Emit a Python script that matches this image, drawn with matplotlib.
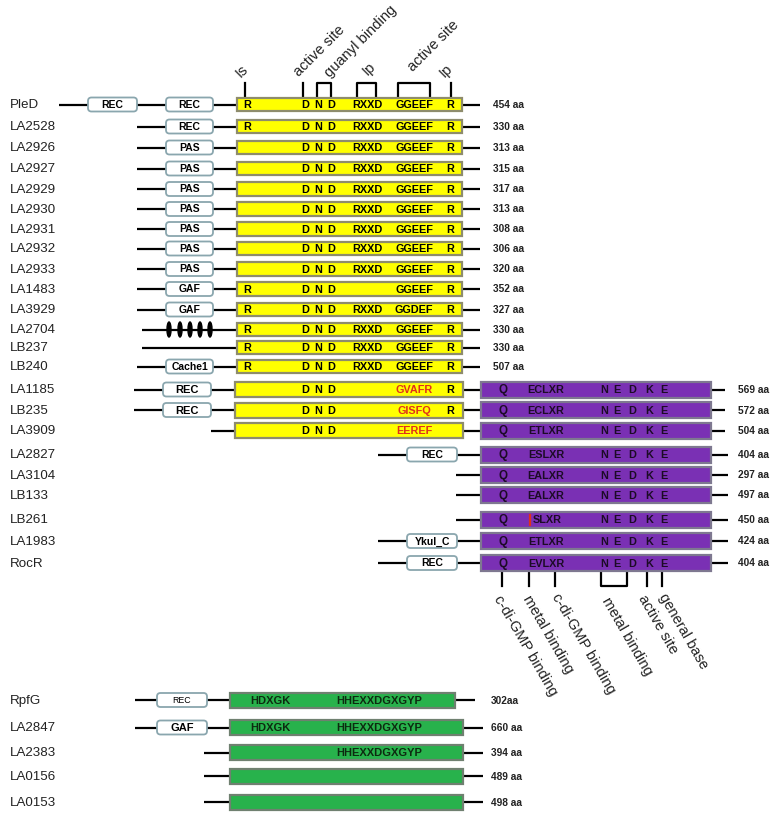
import matplotlib
matplotlib.use("Agg")
import matplotlib.pyplot as plt
from matplotlib.patches import FancyBboxPatch, Rectangle, Ellipse

plt.rcParams['font.family'] = ['Liberation Sans', 'DejaVu Sans']

# ------------------------------------------------------------------ data
ggdef_names = ["PleD", "LA2528", "LA2926", "LA2927", "LA2929", "LA2930", "LA2931",
               "LA2932", "LA2933", "LA1483", "LA3929", "LA2704", "LB237", "LB240"]
ggdef_lengths = ["454 aa", "330 aa", "313 aa", "315 aa", "317 aa", "313 aa", "308 aa",
                 "306 aa", "320 aa", "352 aa", "327 aa", "330 aa", "330 aa", "507 aa"]
ggdef_sensors = [["REC", "REC"], ["REC"], ["PAS"], ["PAS"], ["PAS"], ["PAS"], ["PAS"],
                 ["PAS"], ["PAS"], ["GAF"], ["GAF"], ["TM"], [], ["Cache1"]]
ggdef_is_R = [True, True, False, False, False, False, False,
              False, False, True, True, True, True, True]
ggdef_rxxd = [True, True, True, True, True, True, True,
              True, True, False, True, True, True, True]
ggdef_site = ["GGEEF", "GGEEF", "GGEEF", "GGEEF", "GGEEF", "GGEEF", "GGEEF",
              "GGEEF", "GGEEF", "GGEEF", "GGDEF", "GGEEF", "GGEEF", "GGEEF"]

hybrid_names = ["LA1185", "LB235", "LA3909"]
hybrid_lengths = ["569 aa", "572 aa", "504 aa"]
hybrid_sensors = [["REC"], ["REC"], []]
hybrid_site = ["GVAFR", "GISFQ", "EEREF"]
hybrid_R = [True, True, False]
hybrid_eal = ["ECLXR", "ECLXR", "ETLXR"]

eal_names = ["LA2827", "LA3104", "LB133", "LB261", "LA1983", "RocR"]
eal_lengths = ["404 aa", "297 aa", "497 aa", "450 aa", "424 aa", "404 aa"]
eal_sensors = [["REC"], [], [], [], ["Ykul_C"], ["REC"]]
eal_motif = ["ESLXR", "EALXR", "EALXR", "|SLXR", "ETLXR", "EVLXR"]
eal_residues = ["N", "E", "D", "K", "E"]

hdgyp_names = ["RpfG", "LA2847", "LA2383", "LA0156", "LA0153"]
hdgyp_lengths = ["302aa", "660 aa", "394 aa", "489 aa", "498 aa"]
hdgyp_sensors = [["REC"], ["GAF"], [], [], []]
hdgyp_motif1 = ["HDXGK", "HDXGK", "", "", ""]
hdgyp_motif2 = ["HHEXXDGXGYP", "HHEXXDGXGYP", "HHEXXDGXGYP", "", ""]

ggdef_site_labels = ["Is", "active site", "guanyl binding", "Ip", "active site", "Ip"]
eal_site_labels = ["c-di-GMP binding", "metal binding", "c-di-GMP binding",
                   "metal binding", "active site", "general base"]

# ------------------------------------------------------------------ layout
ggdef_y = [104.5, 126.5, 147.5, 168.5, 189, 209, 229, 248.5, 269, 289, 309.5, 329.5, 347.5, 366.5]
hybrid_y = [389.5, 410, 430.5]
eal_y = [454.5, 475, 495, 519.5, 541, 563]
hdgyp_y = [700, 727.5, 752.5, 776, 802]

YELLOW, YEL_EDGE = "#ffff00", "#8e8c6c"
PURPLE, PUR_EDGE = "#7a30b4", "#7e7890"
GREEN, GRN_EDGE = "#28b24c", "#6f8070"
BOX_EDGE = "#8aa6ae"
RED = "#e0301a"
DARK = "#1c0b26"

fig = plt.figure(figsize=(7.73, 8.14), dpi=100)
ax = fig.add_axes([0, 0, 1, 1])
ax.set_xlim(0, 773)
ax.set_ylim(814, 0)
ax.axis("off")

NAME_FS = 9.6
SMALL_FS = 7.8


def hline(x0, x1, y):
    ax.plot([x0, x1], [y, y], color="black", lw=1.6, solid_capstyle="butt", zorder=1)


def sensor(label, x0, x1, y, fs=7.5, weight="bold"):
    p = FancyBboxPatch((x0, y - 7), x1 - x0, 14,
                       boxstyle="round,pad=0,rounding_size=3.5",
                       fc="white", ec=BOX_EDGE, lw=1.3, zorder=2)
    ax.add_patch(p)
    ax.text((x0 + x1) / 2, y + 0.5, label, ha="center", va="center",
            fontsize=fs, fontweight=weight, zorder=3)


def tm(xs, y):
    for x in xs:
        ax.add_patch(Ellipse((x, y), 4.0, 15, fc="black", ec="black", zorder=3))


def domain(x0, x1, y, h, fc, ec):
    ax.add_patch(Rectangle((x0, y - h / 2), x1 - x0, h, fc=fc, ec=ec, lw=1.6, zorder=2))


def mtext(x, y, s, color="black", fs=SMALL_FS):
    ax.text(x, y + 0.8, s, ha="center", va="center", fontsize=fs,
            fontweight="bold", color=color, zorder=4)


def name(y, s):
    ax.text(10, y + 0.8, s, ha="left", va="center", fontsize=NAME_FS, color="#222222")


def aa(x, y, s):
    ax.text(x, y + 0.5, s, ha="left", va="center", fontsize=7.3,
            fontweight="bold", color="#222222")


def ggdef_motifs(y, is_r, rxxd, site, site_color="black", r_end=True):
    if is_r:
        mtext(247, y, "R")
    mtext(305, y, "D")
    mtext(318, y, "N")
    mtext(331, y, "D")
    if rxxd:
        mtext(367, y, "RXXD")
    mtext(414, y, site, color=site_color)
    if r_end:
        mtext(450, y, "R")


def eal_motifs(y, motif):
    mtext(503, y, "Q", color=DARK, fs=8.3)
    if motif.startswith("|"):
        ax.plot([530, 530], [y - 4.5, y + 5], color=RED, lw=1.6, zorder=4)
        mtext(547, y, motif[1:], color=DARK)
    else:
        mtext(546, y, motif, color=DARK)
    for x, r in zip([604, 617, 632, 649, 664], eal_residues):
        mtext(x, y, r, color=DARK)


# ------------------------------------------------------------------ GGDEF rows
for i, (nm, ln, sens, y) in enumerate(zip(ggdef_names, ggdef_lengths, ggdef_sensors, ggdef_y)):
    name(y, nm)
    if nm == "PleD":
        hline(59, 237, y)
        sensor(sens[0], 88, 137, y)
        sensor(sens[1], 166, 213, y)
    elif sens == ["TM"]:
        hline(142, 237, y)
        tm([169, 180, 190, 200, 210], y)
    elif not sens:
        hline(142, 237, y)
    else:
        hline(137, 237, y)
        sensor(sens[0], 166, 213, y)
    hline(462, 480, y)
    domain(237, 462, y, 13.5, YELLOW, YEL_EDGE)
    ggdef_motifs(y, ggdef_is_R[i], ggdef_rxxd[i], ggdef_site[i])
    aa(493, y, ln)

# top site markers on PleD
top = 83
yb = ggdef_y[0] - 7
for x in [245, 303, 451]:
    ax.plot([x, x], [top, yb], color="black", lw=1.6, zorder=1)
for xa, xb in [(317, 331), (357, 376), (398, 430)]:
    ax.plot([xa, xa, xb, xb], [yb, top, top, yb], color="black", lw=1.6, zorder=1)
for (x, y), s in zip([(241, 78), (299, 77), (330, 78), (368, 76), (413, 72), (445, 78)],
                     ggdef_site_labels):
    ax.text(x, y, s, rotation=45, rotation_mode="anchor", ha="left", va="baseline",
            fontsize=10.5, color="#222222")

# ------------------------------------------------------------------ GGDEF-EAL hybrids
for i, (nm, ln, sens, y) in enumerate(zip(hybrid_names, hybrid_lengths, hybrid_sensors, hybrid_y)):
    name(y, nm)
    if sens:
        hline(134, 235, y)
        sensor(sens[0], 163, 211, y, fs=8)
    else:
        hline(211, 235, y)
    hline(463, 481, y)
    hline(711, 725, y)
    domain(235, 463, y, 15, YELLOW, YEL_EDGE)
    ggdef_motifs(y, False, False, hybrid_site[i], site_color=RED, r_end=hybrid_R[i])
    domain(481, 711, y, 16, PURPLE, PUR_EDGE)
    eal_motifs(y, hybrid_eal[i])
    aa(738, y, ln)

# ------------------------------------------------------------------ EAL rows
for i, (nm, ln, sens, y) in enumerate(zip(eal_names, eal_lengths, eal_sensors, eal_y)):
    name(y, nm)
    if sens:
        hline(378, 481, y)
        sensor(sens[0], 407, 457, y)
    else:
        hline(456, 481, y)
    hline(711, 728, y)
    domain(481, 711, y, 16, PURPLE, PUR_EDGE)
    eal_motifs(y, eal_motif[i])
    aa(738, y, ln)

# bottom site markers on RocR
yt = eal_y[-1] + 8
bot = 586
for x in [502, 529, 555, 647, 662]:
    ax.plot([x, x], [yt, bot], color="black", lw=1.6, zorder=1)
ax.plot([601, 601, 627, 627], [yt, bot, bot, yt], color="black", lw=1.6, zorder=1)
for (x, y), s in zip([(497, 596), (526, 596), (555, 594), (605, 598), (641, 596), (662, 594)],
                     eal_site_labels):
    ax.text(x, y, s, rotation=-60, rotation_mode="anchor", ha="left", va="center",
            fontsize=10.5, color="#222222")

# ------------------------------------------------------------------ HD-GYP rows
for i, (nm, ln, sens, y) in enumerate(zip(hdgyp_names, hdgyp_lengths, hdgyp_sensors, hdgyp_y)):
    name(y, nm)
    x_end = 455 if nm == "RpfG" else 463
    if sens:
        hline(135, 230, y)
        if nm == "RpfG":
            sensor(sens[0], 157, 207, y, fs=6.3, weight="normal")
        else:
            sensor(sens[0], 157, 207, y, fs=8)
    else:
        hline(204, 230, y)
    hline(x_end, x_end + 20, y)
    domain(230, x_end, y, 15, GREEN, GRN_EDGE)
    if hdgyp_motif1[i]:
        mtext(270, y, hdgyp_motif1[i], color="#0d2a10", fs=8)
    if hdgyp_motif2[i]:
        mtext(379, y, hdgyp_motif2[i], color="#0d2a10", fs=8)
    aa(491, y, ln)

fig.savefig("out.png", dpi=100)
